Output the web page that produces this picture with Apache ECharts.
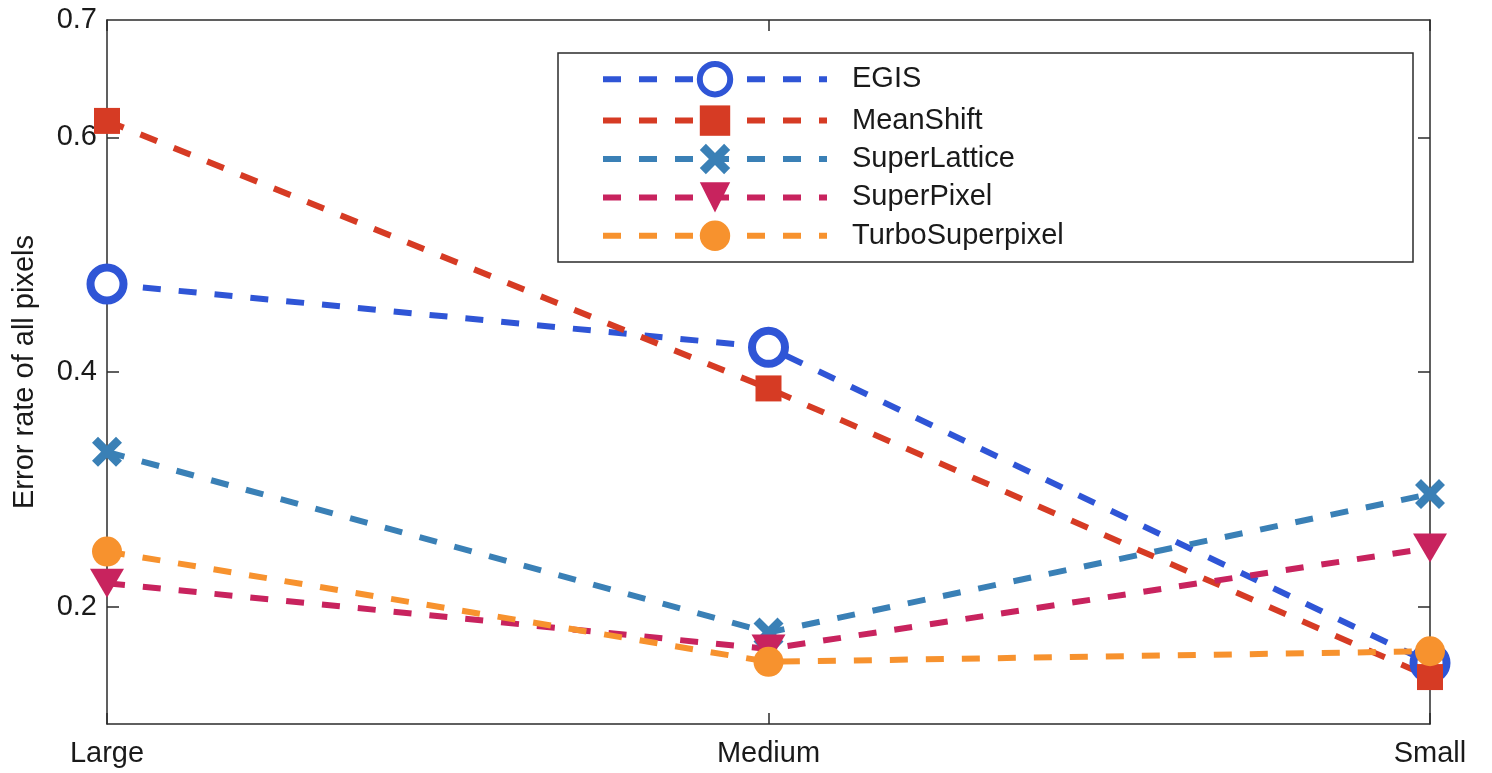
<!DOCTYPE html>
<html>
<head>
<meta charset="utf-8">
<script src="https://cdn.jsdelivr.net/npm/echarts@6/dist/echarts.min.js"></script>
<style>
html,body{margin:0;padding:0;background:#fff;}
#chart{width:1492px;height:773px;}
</style>
</head>
<body>
<div id="chart"></div>
<script>
var categories = ['Large', 'Medium', 'Small'];
var egis = [0.475, 0.421, 0.152];
var meanShift = [0.614, 0.386, 0.140];
var superLattice = [0.332, 0.178, 0.296];
var superPixel = [0.220, 0.164, 0.250];
var turbo = [0.247, 0.153, 0.162];
var yLabelValues = [0.2, 0.4, 0.6, 0.7];
var yTickValues = [0.2, 0.4, 0.6];

var FONT = '"Liberation Sans", Arial, sans-serif';
var AX = '#2b2b2b';
var DASH = [18, 18];

function mk(name, data, color, symbol, size, extraItem) {
  return {
    name: name, type: 'line', data: data,
    symbol: symbol, symbolSize: size, showSymbol: true,
    lineStyle: { color: color, width: 6, type: DASH, cap: 'butt' },
    itemStyle: Object.assign({ color: color }, extraItem || {}),
    emphasis: { disabled: true },
    animation: false
  };
}

var chart = echarts.init(document.getElementById('chart'), null, { renderer: 'canvas' });
var axisLineStyle = { color: AX, width: 1.5 };
chart.setOption({
  backgroundColor: '#fff',
  animation: false,
  grid: { left: 107, right: 62, top: 20, bottom: 49, show: false },
  graphic: [{
    type: 'rect', z: 3,
    shape: { x: 558, y: 53, width: 855, height: 209 },
    style: { fill: '#fff', stroke: AX, lineWidth: 1.5 }
  }],
  legend: {
    left: 595, top: 56, orient: 'vertical',
    itemWidth: 224, itemHeight: 38, itemGap: 8,
    z: 10,
    lineStyle: { width: 6, type: DASH, cap: 'butt' },
    textStyle: { fontFamily: FONT, fontSize: 29, color: '#1a1a1a', padding: [0, 0, 0, 20] },
    data: [
      { name: 'EGIS', itemStyle: { borderWidth: 6 } },
      'MeanShift', 'SuperLattice', 'SuperPixel', 'TurboSuperpixel'
    ]
  },
  xAxis: [{
    type: 'category', data: categories, boundaryGap: false,
    axisLine: { show: true, lineStyle: axisLineStyle },
    axisTick: { show: true, inside: true, length: 11, alignWithLabel: true, lineStyle: axisLineStyle },
    axisLabel: { fontFamily: FONT, fontSize: 29, color: '#1a1a1a', margin: 15 },
    splitLine: { show: false }
  }, {
    type: 'category', data: categories, boundaryGap: false, position: 'top',
    axisLine: { show: true, lineStyle: axisLineStyle },
    axisTick: { show: true, inside: true, length: 11, lineStyle: axisLineStyle },
    axisLabel: { show: false },
    splitLine: { show: false }
  }],
  yAxis: [{
    type: 'value', min: 0.1, max: 0.7, interval: 0.1,
    name: 'Error rate of all pixels', nameLocation: 'middle', nameGap: 68,
    nameTextStyle: { fontFamily: FONT, fontSize: 29, color: '#1a1a1a' },
    axisLine: { show: true, lineStyle: axisLineStyle },
    axisTick: { show: true, inside: true, length: 12, customValues: yTickValues, lineStyle: axisLineStyle },
    axisLabel: { fontFamily: FONT, fontSize: 29, color: '#1a1a1a', margin: 10, customValues: yLabelValues,
      formatter: function (v) { return (Math.round(v * 10) / 10).toFixed(1); } },
    splitLine: { show: false }
  }, {
    type: 'value', min: 0.1, max: 0.7, interval: 0.1, position: 'right',
    axisLine: { show: true, lineStyle: axisLineStyle },
    axisTick: { show: true, inside: true, length: 12, customValues: yTickValues, lineStyle: axisLineStyle },
    axisLabel: { show: false },
    splitLine: { show: false }
  }],
  series: [
    mk('EGIS', egis, '#2f55d6', 'circle', 33, { color: '#fff', borderColor: '#2f55d6', borderWidth: 8 }),
    mk('MeanShift', meanShift, '#d63b24', 'rect', 26),
    mk('SuperLattice', superLattice, '#3a80b6', 'path://M2,0 L5,3 L8,0 L10,2 L7,5 L10,8 L8,10 L5,7 L2,10 L0,8 L3,5 L0,2 Z', 30),
    mk('SuperPixel', superPixel, '#c8235e', 'path://M0,0 L10,0 L5,8.5 Z', [34, 29]),
    mk('TurboSuperpixel', turbo, '#f7922e', 'circle', 30)
  ]
});
</script>
</body>
</html>
